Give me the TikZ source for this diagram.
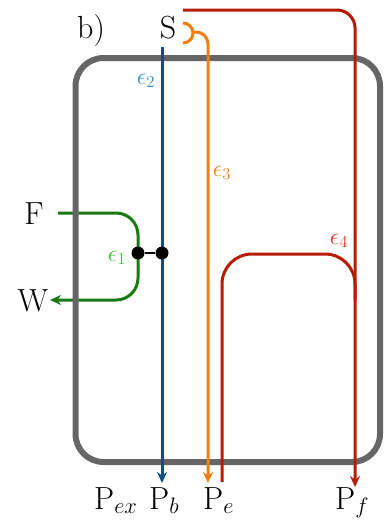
\documentclass[tikz,border=0pt]{standalone}
\usepackage{fix-cm}
\usetikzlibrary{arrows.meta}
\definecolor{cgray}{HTML}{666666}
\definecolor{cblue}{HTML}{0D4F7E}
\definecolor{cblueL}{HTML}{2E8BCB}
\definecolor{corange}{HTML}{F07F12}
\definecolor{cred}{HTML}{B81C00}
\definecolor{credL}{HTML}{E8302A}
\definecolor{cgreen}{HTML}{1A7A12}
\definecolor{cgreenL}{HTML}{3CBE2E}
\begin{document}
\begin{tikzpicture}[x=1pt,y=-1pt,
  flow/.style={line width=3pt},
  tip/.style={-{Stealth[length=11pt,width=10pt]}},
  lbl/.style={font=\fontsize{32}{38}\selectfont, inner sep=0pt},
  eps/.style={font=\fontsize{24}{28}\selectfont, inner sep=0pt},
  dot/.style={circle, fill=black, minimum size=13pt, inner sep=0pt}]
\useasboundingbox (0,0) rectangle (384,520);
% labels
\node[lbl, anchor=base] (lb) at (91,38) {b)};
\node[lbl, anchor=base] (S) at (168,38) {S};
\node[lbl, anchor=base] (F) at (34,224) {F};
\node[lbl, anchor=base] (W) at (33,311) {W};
\node[lbl, anchor=base west] (Pex) at (94,509) {P$_{ex}$};
\node[lbl, anchor=base west] (Pb) at (149,509) {P$_{b}$};
\node[lbl, anchor=base west] (Pe) at (203,509) {P$_{e}$};
\node[lbl, anchor=base west] (Pf) at (335,509) {P$_{f}$};
% green flow (under the box)
\coordinate (gin) at (58,213);
\coordinate (gc1) at (138,213);
\coordinate (gc2) at (138,300);
\coordinate (gout) at (50,300);
\draw[cgreen, flow, tip, rounded corners=22pt] (gin) -- (gc1) -- (gc2) -- (gout);
% box
\node[draw=cgray, line width=6pt, rounded corners=28pt, minimum width=304.5pt, minimum height=404pt, inner sep=0pt] (box) at (227.75,260) {};
% blue
\coordinate (b0) at (162,47);
\coordinate (b1) at (162,483);
\draw[cblue, flow, tip] (b0) -- (b1);
% orange
\coordinate (h0) at (183,23);
\coordinate (o0) at (193,32);
\coordinate (oc) at (208,32);
\coordinate (o1) at (208,483);
\draw[corange, flow] (h0) arc[start angle=90, end angle=-90, radius=10pt];
\draw[corange, flow, tip, rounded corners=12pt] (o0) -- (oc) -- (o1);
% red
\coordinate (r0) at (183,10);
\coordinate (rc) at (355,10);
\coordinate (r1) at (355,487);
\draw[cred, flow, tip, rounded corners=18pt] (r0) -- (rc) -- (r1);
\coordinate (q0) at (222,482);
\coordinate (qc1) at (222,254);
\coordinate (qc2) at (355,254);
\coordinate (q1) at (355,300);
\draw[cred, flow, rounded corners=30pt] (q0) -- (qc1) -- (qc2) -- (q1);
% dots
\node[dot] (d1) at (138,253) {};
\node[dot] (d2) at (162,253) {};
\draw[black, line width=2pt] (d1) -- (d2);
% epsilon labels
\node[eps, text=cblueL] (e2) at (146,81) {$\epsilon_2$};
\node[eps, text=cgreenL] (e1) at (117,258) {$\epsilon_1$};
\node[eps, text=corange] (e3) at (222,173) {$\epsilon_3$};
\node[eps, text=credL] (e4) at (339,241) {$\epsilon_4$};
\end{tikzpicture}
\end{document}
